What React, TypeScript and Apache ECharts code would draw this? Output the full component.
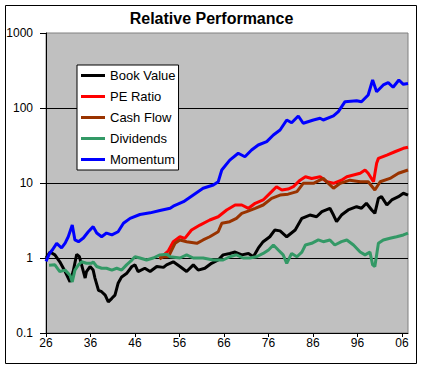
import React, { useEffect, useRef } from "react";
import * as echarts from "echarts";

const seriesNames = ["Book Value", "PE Ratio", "Cash Flow", "Dividends", "Momentum"];
const seriesColors = ["#000000", "#FF0000", "#993300", "#339966", "#0000FF"];
const xTickYears = [1926, 1936, 1946, 1956, 1966, 1976, 1986, 1996, 2006];
const yTickLabels = ["0.1", "1", "10", "100", "1000"];

const bookYears = [1926.0, 1926.9, 1928.0, 1929.1, 1930.3, 1931.4, 1932.1, 1932.9, 1933.5, 1934.0, 1934.8, 1935.1, 1935.9, 1936.6, 1937.0, 1937.8, 1938.5, 1939.3, 1940.0, 1940.8, 1941.5, 1942.2, 1943.0, 1944.1, 1945.3, 1946.0, 1946.7, 1948.2, 1949.4, 1950.9, 1952.4, 1953.1, 1954.6, 1956.1, 1957.6, 1959.1, 1960.2, 1961.7, 1963.2, 1964.7, 1965.8, 1967.3, 1968.5, 1970.0, 1971.5, 1972.6, 1973.7, 1974.8, 1976.3, 1977.4, 1978.6, 1980.1, 1982.0, 1983.5, 1985.3, 1986.8, 1988.0, 1989.8, 1990.6, 1991.3, 1992.4, 1993.9, 1995.8, 1996.9, 1998.0, 1999.2, 1999.9, 2000.7, 2001.4, 2002.6, 2003.7, 2005.2, 2006.3, 2007.35];
const bookValues = [1.0, 1.2, 1.1, 0.89, 0.66, 0.48, 0.66, 1.12, 1.04, 0.81, 0.54, 0.66, 0.77, 0.69, 0.54, 0.37, 0.355, 0.32, 0.26, 0.29, 0.32, 0.46, 0.56, 0.62, 0.77, 0.81, 0.66, 0.73, 0.66, 0.77, 0.75, 0.81, 0.89, 0.77, 0.66, 0.81, 0.69, 0.73, 0.85, 0.94, 1.1, 1.15, 1.2, 1.1, 1.15, 1.04, 1.35, 1.65, 1.92, 2.36, 2.3, 1.92, 2.36, 3.38, 3.74, 3.55, 4.15, 4.6, 3.74, 3.05, 3.74, 4.37, 4.83, 4.6, 5.36, 4.37, 3.94, 6.25, 6.57, 5.09, 5.94, 6.57, 7.3, 6.9];

const peYears = [1951.5, 1952.5, 1953.5, 1954.6, 1956.1, 1957.2, 1958.7, 1960.6, 1962.8, 1964.7, 1966.6, 1968.5, 1970.0, 1971.5, 1973.0, 1974.8, 1976.7, 1977.8, 1979.0, 1980.4, 1981.6, 1983.1, 1984.3, 1985.7, 1987.6, 1989.1, 1990.6, 1992.4, 1993.6, 1995.1, 1996.6, 1997.7, 1998.4, 1999.6, 2000.3, 2000.7, 2002.6, 2004.4, 2006.3, 2007.35];
const peValues = [1.0, 1.1, 1.25, 1.65, 1.92, 1.83, 2.36, 2.75, 3.21, 3.55, 4.37, 5.09, 5.09, 4.6, 5.36, 5.94, 7.67, 8.93, 8.07, 8.3, 8.93, 10.9, 12.1, 11.5, 12.1, 10.4, 9.9, 10.9, 12.1, 12.8, 13.5, 14.9, 13.5, 10.4, 18.3, 21.3, 23.6, 26.1, 29.0, 30.0];

const cashYears = [1951.5, 1952.5, 1953.5, 1955.0, 1956.1, 1957.6, 1959.9, 1961.3, 1962.8, 1964.7, 1965.5, 1967.3, 1968.8, 1970.0, 1971.1, 1973.0, 1974.8, 1976.7, 1978.6, 1980.4, 1982.4, 1983.8, 1986.1, 1988.3, 1990.6, 1992.1, 1994.3, 1996.6, 1998.4, 1999.9, 2001.1, 2003.3, 2005.2, 2007.35];
const cashValues = [0.97, 1.05, 1.04, 1.57, 1.74, 1.65, 1.57, 1.74, 1.92, 2.24, 2.9, 3.05, 3.38, 3.94, 4.15, 4.6, 5.09, 6.25, 6.9, 7.1, 7.67, 9.9, 9.9, 11.5, 8.5, 9.9, 10.9, 10.4, 10.4, 8.07, 10.4, 11.5, 13.5, 14.9];

const divYears = [1926.7, 1928.0, 1929.1, 1930.3, 1931.4, 1931.9, 1932.5, 1933.3, 1934.0, 1935.1, 1936.3, 1936.6, 1937.4, 1938.5, 1939.6, 1940.8, 1941.9, 1943.0, 1944.1, 1945.3, 1946.0, 1947.1, 1948.6, 1950.1, 1951.6, 1953.1, 1953.9, 1956.1, 1957.6, 1959.1, 1961.3, 1963.6, 1965.8, 1967.3, 1968.8, 1970.3, 1971.8, 1973.3, 1974.8, 1976.0, 1977.1, 1978.2, 1979.3, 1980.1, 1981.2, 1982.4, 1983.5, 1984.3, 1985.7, 1987.2, 1988.3, 1989.8, 1990.9, 1992.4, 1993.6, 1995.1, 1996.6, 1997.7, 1998.8, 1999.4, 1999.9, 2000.7, 2001.8, 2003.3, 2004.8, 2006.3, 2007.35];
const divValues = [0.8, 0.81, 0.66, 0.69, 0.59, 0.48, 0.69, 0.81, 0.89, 0.85, 0.85, 0.89, 0.77, 0.73, 0.73, 0.69, 0.73, 0.69, 0.81, 0.94, 1.04, 1.0, 0.94, 1.0, 1.1, 1.12, 1.04, 1.0, 1.1, 1.0, 1.0, 0.94, 0.94, 1.04, 1.1, 1.0, 1.0, 1.04, 1.15, 1.28, 1.49, 1.28, 1.1, 0.85, 1.15, 1.04, 1.2, 1.49, 1.57, 1.74, 1.65, 1.74, 1.49, 1.65, 1.74, 1.49, 1.2, 1.1, 1.2, 0.81, 0.77, 1.57, 1.74, 1.83, 1.92, 2.03, 2.15];

const momYears = [1926.0, 1926.8, 1927.5, 1928.4, 1929.5, 1930.3, 1931.0, 1931.9, 1932.5, 1933.3, 1934.4, 1935.5, 1936.6, 1937.4, 1938.5, 1939.6, 1940.8, 1942.2, 1943.4, 1944.9, 1947.1, 1949.4, 1951.6, 1953.9, 1954.6, 1956.9, 1959.1, 1961.3, 1963.6, 1964.7, 1965.5, 1967.3, 1969.2, 1970.7, 1972.2, 1973.7, 1975.6, 1977.1, 1978.6, 1980.1, 1981.2, 1982.7, 1983.8, 1986.1, 1987.6, 1988.3, 1990.6, 1991.7, 1993.2, 1995.8, 1996.9, 1998.4, 1999.4, 2000.3, 2001.8, 2002.9, 2004.0, 2005.3, 2006.3, 2007.35];
const momValues = [0.9, 1.15, 1.3, 1.57, 1.36, 1.58, 1.92, 2.75, 1.74, 1.65, 1.85, 2.24, 2.62, 2.15, 1.92, 2.15, 2.03, 2.24, 2.9, 3.38, 3.8, 4.0, 4.3, 4.6, 4.9, 5.63, 6.92, 8.5, 9.4, 10.4, 14.9, 20.2, 24.9, 22.4, 27.5, 32.1, 35.6, 43.6, 50.9, 69.2, 63.5, 78.3, 62.6, 69.2, 72.9, 69.2, 78.3, 89.3, 121.6, 125, 121, 149, 236, 165, 203, 218, 189, 236, 207, 212];

const allYears = [bookYears, peYears, cashYears, divYears, momYears];
const allValues = [bookValues, peValues, cashValues, divValues, momValues];

const FONT = "'Liberation Sans', Arial, sans-serif";

export default function App() {
  const ref = useRef<HTMLDivElement>(null);
  useEffect(() => {
    if (!ref.current) return;
    const chart = echarts.init(ref.current, undefined, { renderer: "svg" });
    const series = seriesNames.map((name, i) => ({
      name,
      type: "line",
      showSymbol: false,
      symbol: "none",
      data: allYears[i].map((y, j) => [y, allValues[i][j]]),
      lineStyle: { color: seriesColors[i], width: 3 },
      itemStyle: { color: seriesColors[i] },
      z: 2 + i,
    }));
    chart.setOption({
      animation: false,
      backgroundColor: "#FFFFFF",
      textStyle: { fontFamily: FONT },
      title: {
        text: "Relative Performance",
        left: "center",
        top: 10,
        padding: 0,
        textStyle: { fontFamily: FONT, fontSize: 16, fontWeight: "bold", color: "#000" },
      },
      graphic: [
        {
          type: "rect",
          shape: { x: 5.5, y: 5.5, width: 411, height: 358 },
          style: { fill: "none", stroke: "#000", lineWidth: 1 },
          silent: true,
          z: 0,
        },
      ],
      legend: {
        orient: "vertical",
        left: 77,
        top: 65,
        padding: [4, 3, 4, 4],
        itemGap: 8,
        itemWidth: 24,
        itemHeight: 3,
        icon: "rect",
        backgroundColor: "#FFFFFF",
        borderColor: "#000",
        borderWidth: 1,
        borderRadius: 0,
        data: seriesNames,
        textStyle: { fontFamily: FONT, fontSize: 13, color: "#000" },
      },
      grid: {
        left: 46,
        top: 33,
        right: 15,
        bottom: 36,
        show: true,
        backgroundColor: "#C0C0C0",
        borderColor: "#808080",
        borderWidth: 1,
      },
      xAxis: {
        type: "value",
        min: 1926,
        max: 2007.35,
        axisLine: { show: true, lineStyle: { color: "#000", width: 1 } },
        axisTick: { show: true, length: 4, inside: false, customValues: xTickYears, lineStyle: { color: "#000" } },
        axisLabel: {
          customValues: xTickYears,
          margin: 4,
          color: "#000",
          fontSize: 12,
          fontFamily: FONT,
          formatter: (v: number) => String(Math.round(v) % 100).padStart(2, "0"),
        },
        splitLine: { show: false },
      },
      yAxis: {
        type: "log",
        logBase: 10,
        min: 0.1,
        max: 1000,
        axisLine: { show: true, lineStyle: { color: "#000", width: 1 } },
        axisTick: { show: true, length: 6, inside: false, lineStyle: { color: "#000" } },
        axisLabel: {
          margin: 13,
          color: "#000",
          fontSize: 12,
          fontFamily: FONT,
          formatter: (v: number) => {
            const idx = Math.round(Math.log10(v)) + 1;
            return yTickLabels[idx] ?? String(v);
          },
        },
        splitLine: { show: true, showMinLine: false, showMaxLine: false, lineStyle: { color: "#000", width: 1 } },
        minorTick: { show: false },
        minorSplitLine: { show: false },
      },
      series,
    });
    return () => chart.dispose();
  }, []);
  return <div ref={ref} style={{ position: "fixed", left: 0, top: 0, width: 423, height: 369 }} />;
}
